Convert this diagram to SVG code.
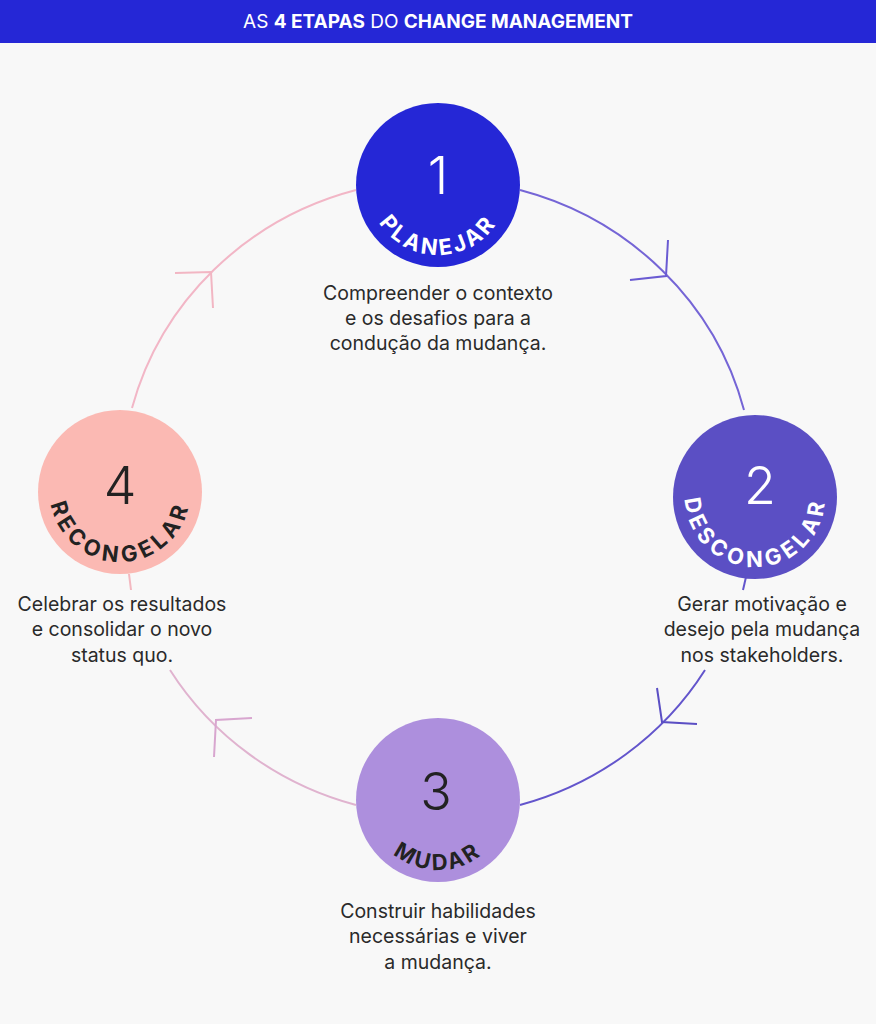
<svg xmlns="http://www.w3.org/2000/svg" width="876" height="1024" viewBox="0 0 876 1024">
<style>
.lbl{font-family:Inter,"Noto Sans",sans-serif;font-weight:700;font-size:22px;letter-spacing:3px}
.wide{letter-spacing:4.5px}
.num{font-family:Inter,"Noto Sans",sans-serif;font-weight:300;font-size:52px;text-anchor:middle}
.d{font-family:Inter,"Noto Sans",sans-serif;font-size:19.5px;fill:#2a2a2a;text-anchor:middle}
.c{fill:none;stroke-width:2}
</style>
<defs>
<path id="p1" d="M380.7,144.8 A70,70 0 1 0 495.3,144.8"/>
<path id="p2" d="M697.7,456.8 A70,70 0 1 0 812.3,456.8"/>
<path id="p3" d="M380.7,759.8 A70,70 0 1 0 495.3,759.8"/>
<path id="p4" d="M62.7,451.8 A70,70 0 1 0 177.3,451.8"/>
</defs>
<rect width="876" height="1024" fill="#f8f8f8"/>
<rect width="876" height="43" fill="#2527d6"/>
<text x="438" y="28" text-anchor="middle" fill="#fff" style="font-family:Inter,'Noto Sans',sans-serif;font-size:19px">AS <tspan font-weight="700">4 ETAPAS</tspan> DO <tspan font-weight="700">CHANGE MANAGEMENT</tspan></text>
<g id="connectors">
<path class="c" stroke="#7565d6" d="M520,190 A317,308 0 0 1 744,410"/>
<path class="c" stroke="#6355cc" d="M746,577 L743,590"/>
<path class="c" stroke="#6355cc" d="M705,670 A317,308 0 0 1 520,805"/>
<path class="c" stroke="#e0b3cf" d="M356,805 A317,308 0 0 1 170,670"/>
<path class="c" stroke="#f3b8c0" d="M129,574 L131,590"/>
<path class="c" stroke="#f2b6c6" d="M132,408 A317,308 0 0 1 356,190"/>
<path class="c" stroke="#6a5bd2" d="M668,240 L666,276 L630,280"/>
<path class="c" stroke="#5b4fc4" d="M657,688 L662,722 L697,724"/>
<path class="c" stroke="#d8a6cf" d="M252,718 L216,720 L214,757"/>
<path class="c" stroke="#f2b6c3" d="M175,273 L211,272 L213,308"/>
</g>
<g id="n1"><circle cx="438" cy="185" r="82" fill="#2527d6"/>
<text class="num" x="438" y="194" fill="#fff">1</text>
<text class="lbl" fill="#fff"><textPath href="#p1" startOffset="50%" text-anchor="middle">PLANEJAR</textPath></text>
<text class="d"><tspan x="438" y="300">Compreender o contexto</tspan><tspan x="438" y="325">e os desafios para a</tspan><tspan x="438" y="350">condução da mudança.</tspan></text></g>
<g id="n2"><circle cx="755" cy="497" r="82" fill="#5b4fc4"/>
<text class="num" x="760" y="504" fill="#fff">2</text>
<text class="lbl wide" fill="#fff"><textPath href="#p2" startOffset="50%" text-anchor="middle">DESCONGELAR</textPath></text>
<text class="d"><tspan x="762" y="611">Gerar motivação e</tspan><tspan x="762" y="636">desejo pela mudança</tspan><tspan x="762" y="662">nos stakeholders.</tspan></text></g>
<g id="n3"><circle cx="438" cy="800" r="82" fill="#ad8fdd"/>
<text class="num" x="436" y="810" fill="#222">3</text>
<text class="lbl" fill="#222"><textPath href="#p3" startOffset="50%" text-anchor="middle">MUDAR</textPath></text>
<text class="d"><tspan x="438" y="918">Construir habilidades</tspan><tspan x="438" y="943">necessárias e viver</tspan><tspan x="438" y="969">a mudança.</tspan></text></g>
<g id="n4"><circle cx="120" cy="492" r="82" fill="#fbb9b3"/>
<text class="num" x="120" y="504" fill="#222">4</text>
<text class="lbl wide" fill="#222"><textPath href="#p4" startOffset="50%" text-anchor="middle">RECONGELAR</textPath></text>
<text class="d"><tspan x="122" y="611">Celebrar os resultados</tspan><tspan x="122" y="636">e consolidar o novo</tspan><tspan x="122" y="662">status quo.</tspan></text></g>
</svg>
